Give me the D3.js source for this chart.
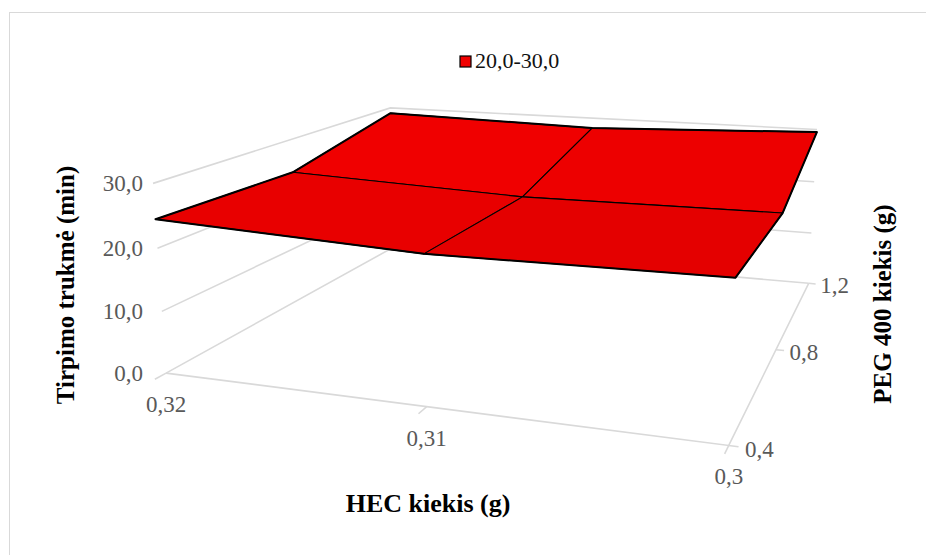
<!DOCTYPE html>
<html>
<head>
<meta charset="utf-8">
<script src="https://cdn.jsdelivr.net/npm/d3@7"></script>
<style>
  body { margin: 0; background: #fff; }
</style>
</head>
<body>
<div id="surfaceChart"></div>
<script>
// HEC kiekis (g) along the front, PEG 400 kiekis (g) into depth
const hecLabels = ["0,32", "0,31", "0,3"];
const pegLabels = ["0,4", "0,8", "1,2"];
const valueTicks = [0, 10, 20, 30];
const valueTickLabels = ["0,0", "10,0", "20,0", "30,0"];
const legendLabels = ["20,0-30,0"];

// Tirpimo trukmė (min), one row per PEG level, one value per HEC level
const peg04 = [24.5, 22.8, 23.3];
const peg08 = [24.0, 22.5, 22.9];
const peg12 = [28.9, 28.0, 29.5];

const width = 926;
const height = 555;
const serif = "'Liberation Serif', 'Times New Roman', serif";

// 3D view (rotation, elevation, perspective) in the look of the original chart
const view = {
    rotation: -0.333,
    elevation: 0.2412,
    distance: 5.119,
    focal: 1309.7,
    cx: 522.5,
    cy: 239.7
};
const depthHalf = 0.9654;
const heightHalf = 0.3419;

const rows = [peg04, peg08, peg12];

const xScale = d3.scaleLinear().domain([0, hecLabels.length - 1]).range([-1, 1]);
const zScale = d3.scaleLinear().domain([0, pegLabels.length - 1]).range([depthHalf, -depthHalf]);
const yScale = d3.scaleLinear().domain([0, 30]).range([-heightHalf, heightHalf]);

function toCamera(i, j, value) {
    const X = xScale(i), Z = zScale(j), Y = yScale(value);
    const cr = Math.cos(view.rotation), sr = Math.sin(view.rotation);
    const ce = Math.cos(view.elevation), se = Math.sin(view.elevation);
    const x1 = X * cr + Z * sr;
    const z1 = -X * sr + Z * cr;
    const y2 = Y * ce - z1 * se;
    const z2 = Y * se + z1 * ce;
    return [x1, y2, z2];
}

function project(i, j, value) {
    const [x, y, z] = toCamera(i, j, value);
    const s = view.focal / (view.distance - z);
    return [view.cx + x * s, view.cy - y * s];
}

const svg = d3.select("#surfaceChart")
    .append("svg")
    .attr("width", width)
    .attr("height", height)
    .style("font-family", serif);

svg.append("rect")
    .attr("x", 9.5)
    .attr("y", 12.5)
    .attr("width", 940)
    .attr("height", 570)
    .attr("fill", "#fff")
    .attr("stroke", "#d9d9d9");

const nI = hecLabels.length - 1;
const nJ = pegLabels.length - 1;
const line = d3.line();
const gridColor = "#d9d9d9";

// walls: gridlines along the left wall and the back wall
const walls = svg.append("g");
valueTicks.forEach(v => {
    walls.append("path")
        .attr("d", line([project(0, 0, v), project(0, nJ, v), project(nI, nJ, v)]))
        .attr("fill", "none")
        .attr("stroke", gridColor)
        .attr("stroke-width", 1.6);
});

// floor axes
walls.append("path")
    .attr("d", line([project(0, 0, 0), project(nI, 0, 0), project(nI, nJ, 0)]))
    .attr("fill", "none")
    .attr("stroke", gridColor)
    .attr("stroke-width", 1.6);

hecLabels.forEach((d, i) => {
    walls.append("path")
        .attr("d", line([project(i, 0, 0), project(i, -0.07, 0)]))
        .attr("stroke", gridColor)
        .attr("stroke-width", 1.6);
});
pegLabels.forEach((d, j) => {
    walls.append("path")
        .attr("d", line([project(nI, j, 0), project(nI + 0.03, j, 0)]))
        .attr("stroke", gridColor)
        .attr("stroke-width", 1.6);
});

// tick labels
const labels = svg.append("g")
    .style("font-family", serif)
    .style("font-size", "23px")
    .style("fill", "#595959");

// value labels sit in one right-aligned column left of the wall
const valueLabelX = d3.min(valueTicks, v => project(0, 0, v)[0]) - 10;
valueTicks.forEach((v, k) => {
    const p = project(0, 0, v);
    labels.append("text")
        .attr("x", valueLabelX)
        .attr("y", p[1] + 8)
        .attr("text-anchor", "end")
        .text(valueTickLabels[k]);
});

hecLabels.forEach((d, i) => {
    const p = project(i, 0, 0);
    labels.append("text")
        .attr("x", p[0])
        .attr("y", p[1] + 39)
        .attr("text-anchor", "middle")
        .text(d);
});

pegLabels.forEach((d, j) => {
    const p = project(nI + 0.05, j, 0);
    labels.append("text")
        .attr("x", p[0])
        .attr("y", p[1] + 9)
        .attr("text-anchor", "start")
        .text(d);
});

// surface patches, drawn back to front
const light = [0.5, 0.45, 1];
const lightLen = Math.hypot(...light);
const patches = [];
for (let j = 0; j < nJ; j++) {
    for (let i = 0; i < nI; i++) {
        const corners = [
            [i, j, rows[j][i]],
            [i + 1, j, rows[j][i + 1]],
            [i + 1, j + 1, rows[j + 1][i + 1]],
            [i, j + 1, rows[j + 1][i]]
        ];
        const cam = corners.map(c => toCamera(...c));
        const a = cam[0], b = cam[1], d = cam[3];
        const e1 = [b[0] - a[0], b[1] - a[1], b[2] - a[2]];
        const e2 = [d[0] - a[0], d[1] - a[1], d[2] - a[2]];
        let n = [
            e1[1] * e2[2] - e1[2] * e2[1],
            e1[2] * e2[0] - e1[0] * e2[2],
            e1[0] * e2[1] - e1[1] * e2[0]
        ];
        const len = Math.hypot(...n);
        n = n.map(v => v / len);
        if (n[1] < 0) n = n.map(v => -v);
        const shade = (n[0] * light[0] + n[1] * light[1] + n[2] * light[2]) / lightLen;
        patches.push({
            points: corners.map(c => project(...c)),
            depth: d3.mean(cam, c => c[2]),
            shade
        });
    }
}
patches.sort((p, q) => p.depth - q.depth);

const shadeColor = d3.scaleLinear()
    .domain(d3.extent(patches, p => p.shade))
    .range(["#e40000", "#f00000"])
    .interpolate(d3.interpolateRgb);

svg.append("g")
    .selectAll("path")
    .data(patches)
    .enter()
    .append("path")
    .attr("d", p => line(p.points) + "Z")
    .attr("fill", p => shadeColor(p.shade))
    .attr("stroke", "#000")
    .attr("stroke-width", 1.1)
    .attr("stroke-linejoin", "round");

// thicker outline along the surface border
const border = [];
for (let i = 0; i <= nI; i++) border.push(project(i, 0, rows[0][i]));
for (let j = 1; j <= nJ; j++) border.push(project(nI, j, rows[j][nI]));
for (let i = nI - 1; i >= 0; i--) border.push(project(i, nJ, rows[nJ][i]));
for (let j = nJ - 1; j > 0; j--) border.push(project(0, j, rows[j][0]));
svg.append("path")
    .attr("d", line(border) + "Z")
    .attr("fill", "none")
    .attr("stroke", "#000")
    .attr("stroke-width", 2)
    .attr("stroke-linejoin", "round");

// legend
const legend = svg.selectAll(".legend")
    .data(legendLabels)
    .enter()
    .append("g")
    .attr("class", "legend")
    .attr("transform", "translate(460, 56)");

legend.append("rect")
    .attr("width", 11)
    .attr("height", 11)
    .attr("fill", "#f00000")
    .attr("stroke", "#000")
    .attr("stroke-width", 1.2);

legend.append("text")
    .attr("x", 15)
    .attr("y", 12)
    .style("font-family", serif)
    .style("font-size", "22px")
    .style("fill", "#111")
    .text(d => d);

// axis titles
const titles = svg.append("g")
    .style("font-family", serif)
    .style("font-size", "25px")
    .style("font-weight", "bold")
    .style("fill", "#000");

titles.append("text")
    .attr("transform", "translate(65, 285) rotate(-90)")
    .attr("text-anchor", "middle")
    .attr("dy", "0.35em")
    .text("Tirpimo trukmė (min)");

titles.append("text")
    .attr("transform", "translate(882, 304) rotate(-90)")
    .attr("text-anchor", "middle")
    .attr("dy", "0.35em")
    .text("PEG 400 kiekis (g)");

titles.append("text")
    .attr("x", 428)
    .attr("y", 512)
    .attr("text-anchor", "middle")
    .style("font-size", "26px")
    .text("HEC kiekis (g)");
</script>
</body>
</html>
